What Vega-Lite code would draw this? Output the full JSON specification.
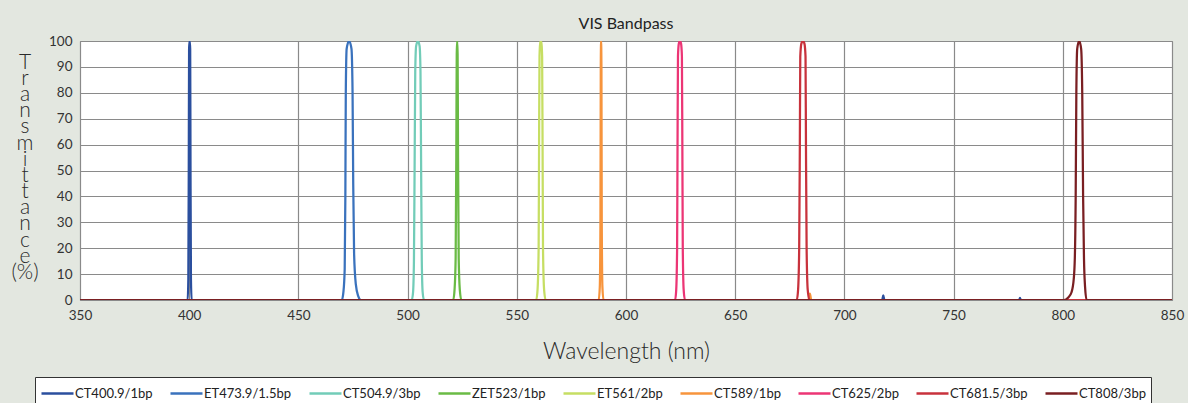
{
  "$schema": "https://vega.github.io/schema/vega-lite/v6.json",
  "width": 1092,
  "height": 259,
  "autosize": {"type": "none"},
  "padding": {"left": 80, "top": 41, "right": 16, "bottom": 103},
  "background": "#e3e7e0",
  "config": {
    "font": "Lato",
    "view": {"fill": "white", "stroke": "#8c8c8c", "strokeWidth": 1}
  },
  "title": {
    "text": "VIS Bandpass",
    "fontSize": 16,
    "fontWeight": "normal",
    "color": "#222222",
    "anchor": "middle",
    "frame": "group",
    "baseline": "alphabetic",
    "offset": -11
  },
  "data": {
    "values": [
      {"f": "CT400.9/1bp", "w": 350, "t": 0},
      {"f": "CT400.9/1bp", "w": 399.3, "t": 0},
      {"f": "CT400.9/1bp", "w": 399.6, "t": 8},
      {"f": "CT400.9/1bp", "w": 399.8, "t": 50},
      {"f": "CT400.9/1bp", "w": 399.95, "t": 97},
      {"f": "CT400.9/1bp", "w": 400.2, "t": 100},
      {"f": "CT400.9/1bp", "w": 400.45, "t": 97},
      {"f": "CT400.9/1bp", "w": 400.6, "t": 50},
      {"f": "CT400.9/1bp", "w": 400.8, "t": 8},
      {"f": "CT400.9/1bp", "w": 401.1, "t": 0},
      {"f": "CT400.9/1bp", "w": 717.3, "t": 0},
      {"f": "CT400.9/1bp", "w": 717.8, "t": 1.8},
      {"f": "CT400.9/1bp", "w": 718.3, "t": 0},
      {"f": "CT400.9/1bp", "w": 780, "t": 0},
      {"f": "CT400.9/1bp", "w": 780.4, "t": 0.8},
      {"f": "CT400.9/1bp", "w": 780.8, "t": 0},
      {"f": "CT400.9/1bp", "w": 850, "t": 0},

      {"f": "ET473.9/1.5bp", "w": 350, "t": 0},
      {"f": "ET473.9/1.5bp", "w": 469.9, "t": 0},
      {"f": "ET473.9/1.5bp", "w": 470.6, "t": 3},
      {"f": "ET473.9/1.5bp", "w": 471.2, "t": 12},
      {"f": "ET473.9/1.5bp", "w": 471.5, "t": 40},
      {"f": "ET473.9/1.5bp", "w": 471.7, "t": 80},
      {"f": "ET473.9/1.5bp", "w": 472.1, "t": 97},
      {"f": "ET473.9/1.5bp", "w": 473.2, "t": 100},
      {"f": "ET473.9/1.5bp", "w": 474.3, "t": 97},
      {"f": "ET473.9/1.5bp", "w": 474.8, "t": 80},
      {"f": "ET473.9/1.5bp", "w": 475.1, "t": 45},
      {"f": "ET473.9/1.5bp", "w": 475.5, "t": 18},
      {"f": "ET473.9/1.5bp", "w": 476.3, "t": 6},
      {"f": "ET473.9/1.5bp", "w": 477.4, "t": 1.5},
      {"f": "ET473.9/1.5bp", "w": 478.6, "t": 0},
      {"f": "ET473.9/1.5bp", "w": 850, "t": 0},

      {"f": "CT504.9/3bp", "w": 350, "t": 0},
      {"f": "CT504.9/3bp", "w": 501.9, "t": 0},
      {"f": "CT504.9/3bp", "w": 502.5, "t": 3},
      {"f": "CT504.9/3bp", "w": 502.9, "t": 15},
      {"f": "CT504.9/3bp", "w": 503.2, "t": 50},
      {"f": "CT504.9/3bp", "w": 503.5, "t": 88},
      {"f": "CT504.9/3bp", "w": 503.9, "t": 98},
      {"f": "CT504.9/3bp", "w": 504.7, "t": 100},
      {"f": "CT504.9/3bp", "w": 505.5, "t": 98},
      {"f": "CT504.9/3bp", "w": 505.9, "t": 88},
      {"f": "CT504.9/3bp", "w": 506.2, "t": 50},
      {"f": "CT504.9/3bp", "w": 506.5, "t": 15},
      {"f": "CT504.9/3bp", "w": 506.9, "t": 3},
      {"f": "CT504.9/3bp", "w": 507.5, "t": 0},
      {"f": "CT504.9/3bp", "w": 850, "t": 0},

      {"f": "ZET523/1bp", "w": 350, "t": 0},
      {"f": "ZET523/1bp", "w": 520.9, "t": 0},
      {"f": "ZET523/1bp", "w": 521.5, "t": 4},
      {"f": "ZET523/1bp", "w": 522.0, "t": 16},
      {"f": "ZET523/1bp", "w": 522.3, "t": 55},
      {"f": "ZET523/1bp", "w": 522.5, "t": 95},
      {"f": "ZET523/1bp", "w": 522.7, "t": 100},
      {"f": "ZET523/1bp", "w": 522.9, "t": 95},
      {"f": "ZET523/1bp", "w": 523.1, "t": 55},
      {"f": "ZET523/1bp", "w": 523.4, "t": 16},
      {"f": "ZET523/1bp", "w": 523.9, "t": 4},
      {"f": "ZET523/1bp", "w": 524.6, "t": 0},
      {"f": "ZET523/1bp", "w": 850, "t": 0},

      {"f": "ET561/2bp", "w": 350, "t": 0},
      {"f": "ET561/2bp", "w": 558.9, "t": 0},
      {"f": "ET561/2bp", "w": 559.5, "t": 4},
      {"f": "ET561/2bp", "w": 560.0, "t": 20},
      {"f": "ET561/2bp", "w": 560.2, "t": 60},
      {"f": "ET561/2bp", "w": 560.4, "t": 94},
      {"f": "ET561/2bp", "w": 560.7, "t": 99},
      {"f": "ET561/2bp", "w": 561.0, "t": 100},
      {"f": "ET561/2bp", "w": 561.3, "t": 99},
      {"f": "ET561/2bp", "w": 561.6, "t": 94},
      {"f": "ET561/2bp", "w": 561.8, "t": 60},
      {"f": "ET561/2bp", "w": 562.0, "t": 20},
      {"f": "ET561/2bp", "w": 562.5, "t": 4},
      {"f": "ET561/2bp", "w": 563.2, "t": 0},
      {"f": "ET561/2bp", "w": 850, "t": 0},

      {"f": "CT589/1bp", "w": 350, "t": 0},
      {"f": "CT589/1bp", "w": 587.5, "t": 0},
      {"f": "CT589/1bp", "w": 588.0, "t": 5},
      {"f": "CT589/1bp", "w": 588.3, "t": 30},
      {"f": "CT589/1bp", "w": 588.45, "t": 90},
      {"f": "CT589/1bp", "w": 588.6, "t": 100},
      {"f": "CT589/1bp", "w": 588.75, "t": 90},
      {"f": "CT589/1bp", "w": 588.9, "t": 30},
      {"f": "CT589/1bp", "w": 589.2, "t": 5},
      {"f": "CT589/1bp", "w": 589.7, "t": 0},
      {"f": "CT589/1bp", "w": 683.6, "t": 0},
      {"f": "CT589/1bp", "w": 684.2, "t": 2.5},
      {"f": "CT589/1bp", "w": 684.8, "t": 0},
      {"f": "CT589/1bp", "w": 850, "t": 0},

      {"f": "CT625/2bp", "w": 350, "t": 0},
      {"f": "CT625/2bp", "w": 622.5, "t": 0},
      {"f": "CT625/2bp", "w": 623.0, "t": 4},
      {"f": "CT625/2bp", "w": 623.4, "t": 20},
      {"f": "CT625/2bp", "w": 623.6, "t": 60},
      {"f": "CT625/2bp", "w": 623.8, "t": 94},
      {"f": "CT625/2bp", "w": 624.2, "t": 99},
      {"f": "CT625/2bp", "w": 624.7, "t": 100},
      {"f": "CT625/2bp", "w": 625.2, "t": 99},
      {"f": "CT625/2bp", "w": 625.6, "t": 94},
      {"f": "CT625/2bp", "w": 625.8, "t": 60},
      {"f": "CT625/2bp", "w": 626.0, "t": 20},
      {"f": "CT625/2bp", "w": 626.4, "t": 4},
      {"f": "CT625/2bp", "w": 627.0, "t": 0},
      {"f": "CT625/2bp", "w": 850, "t": 0},

      {"f": "CT681.5/3bp", "w": 350, "t": 0},
      {"f": "CT681.5/3bp", "w": 678.2, "t": 0},
      {"f": "CT681.5/3bp", "w": 678.8, "t": 4},
      {"f": "CT681.5/3bp", "w": 679.3, "t": 20},
      {"f": "CT681.5/3bp", "w": 679.6, "t": 60},
      {"f": "CT681.5/3bp", "w": 679.8, "t": 94},
      {"f": "CT681.5/3bp", "w": 680.3, "t": 99},
      {"f": "CT681.5/3bp", "w": 681.0, "t": 100},
      {"f": "CT681.5/3bp", "w": 681.7, "t": 99},
      {"f": "CT681.5/3bp", "w": 682.2, "t": 94},
      {"f": "CT681.5/3bp", "w": 682.4, "t": 60},
      {"f": "CT681.5/3bp", "w": 682.7, "t": 20},
      {"f": "CT681.5/3bp", "w": 683.2, "t": 4},
      {"f": "CT681.5/3bp", "w": 684.0, "t": 0},
      {"f": "CT681.5/3bp", "w": 850, "t": 0},

      {"f": "CT808/3bp", "w": 350, "t": 0},
      {"f": "CT808/3bp", "w": 800.5, "t": 0},
      {"f": "CT808/3bp", "w": 802.5, "t": 1},
      {"f": "CT808/3bp", "w": 804.0, "t": 3},
      {"f": "CT808/3bp", "w": 805.0, "t": 8},
      {"f": "CT808/3bp", "w": 805.5, "t": 16},
      {"f": "CT808/3bp", "w": 805.9, "t": 40},
      {"f": "CT808/3bp", "w": 806.2, "t": 80},
      {"f": "CT808/3bp", "w": 806.6, "t": 97},
      {"f": "CT808/3bp", "w": 807.5, "t": 100},
      {"f": "CT808/3bp", "w": 808.4, "t": 97},
      {"f": "CT808/3bp", "w": 808.9, "t": 80},
      {"f": "CT808/3bp", "w": 809.3, "t": 40},
      {"f": "CT808/3bp", "w": 809.7, "t": 16},
      {"f": "CT808/3bp", "w": 810.2, "t": 5},
      {"f": "CT808/3bp", "w": 810.9, "t": 0},
      {"f": "CT808/3bp", "w": 850, "t": 0}
    ]
  },
  "mark": {"type": "line", "interpolate": "monotone", "strokeWidth": 2.25, "clip": true},
  "encoding": {
    "x": {
      "field": "w",
      "type": "quantitative",
      "scale": {"domain": [350, 850], "nice": false, "zero": false},
      "axis": {
        "values": [350, 400, 450, 500, 550, 600, 650, 700, 750, 800, 850],
        "grid": true,
        "gridColor": "#8a8a8a",
        "gridWidth": 1.2,
        "domain": false,
        "ticks": false,
        "labelFontSize": 13.5,
        "labelColor": "#333333",
        "labelPadding": 8,
        "labelFlush": false,
        "title": "Wavelength (nm)",
        "titleFontSize": 23,
        "titleFontWeight": 300,
        "titleColor": "#2a2a2a",
        "titleAlign": "center",
        "titleBaseline": "alphabetic",
        "titleX": 546,
        "titleY": 58
      }
    },
    "y": {
      "field": "t",
      "type": "quantitative",
      "scale": {"domain": [0, 100], "nice": false},
      "axis": {
        "values": [0, 10, 20, 30, 40, 50, 60, 70, 80, 90, 100],
        "grid": true,
        "gridColor": "#8a8a8a",
        "gridWidth": 1.2,
        "domain": false,
        "ticks": false,
        "labelFontSize": 13.5,
        "labelColor": "#333333",
        "labelPadding": 8,
        "labelFlush": false,
        "title": ["T", "r", "a", "n", "s", "m", "i", "t", "t", "a", "n", "c", "e", "(%)"],
        "titleAngle": 0,
        "titleFontSize": 21,
        "titleFontWeight": 300,
        "titleColor": "#2a2a2a",
        "titleLineHeight": 16.2,
        "titleAlign": "center",
        "titleBaseline": "alphabetic",
        "titleX": -55.5,
        "titleY": 27
      }
    },
    "color": {
      "field": "f",
      "type": "nominal",
      "sort": null,
      "scale": {
        "domain": ["CT400.9/1bp", "ET473.9/1.5bp", "CT504.9/3bp", "ZET523/1bp", "ET561/2bp", "CT589/1bp", "CT625/2bp", "CT681.5/3bp", "CT808/3bp"],
        "range": ["#2b4f9e", "#3a72bd", "#72ccb8", "#6abb45", "#c6de63", "#f7943c", "#ec3575", "#c8323c", "#7a1f22"]
      },
      "legend": {
        "orient": "none",
        "legendX": -45,
        "legendY": 336,
        "direction": "horizontal",
        "columns": 9,
        "title": null,
        "symbolType": "stroke",
        "symbolSize": 1024,
        "symbolStrokeWidth": 2.5,
        "labelFontSize": 13,
        "labelColor": "#222222",
        "labelOffset": 0,
        "columnPadding": 16,
        "padding": 5,
        "clipHeight": 23,
        "strokeColor": "#333333",
        "fillColor": "white"
      }
    }
  }
}
